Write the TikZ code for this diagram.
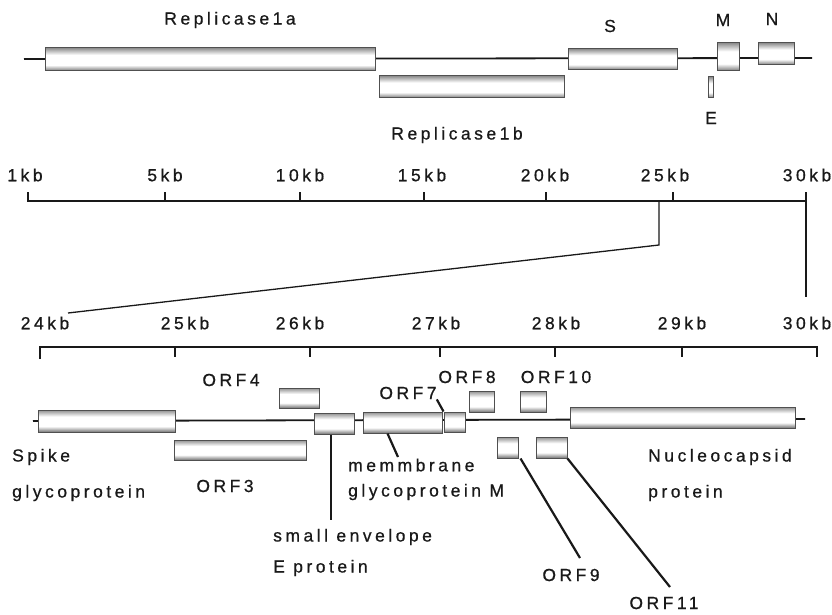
\documentclass[tikz,border=0pt]{standalone}
\usepackage{fontspec}
\setmainfont{Liberation Sans}[LetterSpace=20, FakeBold=0.7]
\usepackage{tikz}
\usetikzlibrary{positioning}
\definecolor{gnline}{RGB}{25,25,25}
\definecolor{gnedge}{RGB}{80,80,80}
\definecolor{gnshade}{RGB}{115,115,115}

% tube look for the gene boxes
\pgfdeclareverticalshading{genebar}{100bp}{color(0bp)=(gnshade); color(25bp)=(gnshade);
  color(38bp)=(white); color(60bp)=(white); color(75bp)=(gnshade!80); color(100bp)=(gnshade!80)}

\tikzset{
  gene/.style={draw=gnedge, line width=1pt, inner sep=0pt, shading=genebar},
  lbl/.style={font=\fontsize{17.5}{19}\selectfont, inner sep=0pt, text=gnline},
  lead/.style={gnline, line width=2.2pt},
  backbone/.style={gnline, line width=1.8pt},
  ruler/.style={gnline, line width=2.8pt},
  zoomline/.style={gnline, line width=1.3pt}
}

\begin{document}
\begin{tikzpicture}[x=1pt, y=-1pt]
\useasboundingbox (0,0) rectangle (832,615);

% ---- whole genome ----
\coordinate (top0) at (24,59);
\coordinate (top1) at (812,58);
\draw[backbone] (top0) -- (top1);

\node[gene, minimum width=330, minimum height=23] (rep1a) at (210,59.5) {};
\node[gene, minimum width=185, minimum height=22] (rep1b) at (471.5,87) {};
\node[gene, minimum width=109, minimum height=21] (sgene) at (622.5,59.5) {};
\node[gene, minimum width=22,  minimum height=28] (mgene) at (728,57) {};
\node[gene, minimum width=36,  minimum height=22] (ngene) at (776,54) {};
\node[gene, minimum width=5,   minimum height=21] (egene) at (710.5,87.5) {};

\node[lbl] (rep1albl) at (230,20)  {Replicase1a};
\node[lbl] (rep1blbl) at (457,135) {Replicase1b};
\node[lbl] (slbl)     at (610,26)  {S};
\node[lbl] (mlbl)     at (723,20)  {M};
\node[lbl] (nlbl)     at (772,19)  {N};
\node[lbl] (elbl)     at (711,118) {E};

% ---- whole genome scale ----
\node[lbl] (kb1)  at (25,175)  {1kb};
\node[lbl] (kb5)  at (165,175) {5kb};
\node[lbl] (kb10) at (300,175) {10kb};
\node[lbl] (kb15) at (422,175) {15kb};
\node[lbl] (kb20) at (545,175) {20kb};
\node[lbl] (kb25) at (665,175) {25kb};
\node[lbl] (kb30) at (807,175) {30kb};

\draw[ruler] (28,192) -- (28,201) -- (806,201) -- (806,192);
\draw[ruler] (165,192) -- (165,201);
\draw[ruler] (300,192) -- (300,201);
\draw[ruler] (424,192) -- (424,201);
\draw[ruler] (546,192) -- (546,201);
\draw[ruler] (673,192) -- (673,201);

% zoom lines
\coordinate (zoomA) at (659,201);
\coordinate (zoomB) at (659,245);
\coordinate (zoomC) at (68,313);
\coordinate (zoomD) at (806,201);
\coordinate (zoomE) at (806,297);
\draw[zoomline] (zoomA) -- (zoomB) -- (zoomC);
\draw[zoomline] (zoomD) -- (zoomE);

% ---- 24-30kb scale ----
\node[lbl] (sub24) at (45,323)  {24kb};
\node[lbl] (sub25) at (185,323) {25kb};
\node[lbl] (sub26) at (300,323) {26kb};
\node[lbl] (sub27) at (436,323) {27kb};
\node[lbl] (sub28) at (556,323) {28kb};
\node[lbl] (sub29) at (682,323) {29kb};
\node[lbl] (sub30) at (807,323) {30kb};

\draw[ruler] (40,359) -- (40,347) -- (817,347) -- (817,357);
\draw[ruler] (175,347) -- (175,357);
\draw[ruler] (310,347) -- (310,357);
\draw[ruler] (440,347) -- (440,357);
\draw[ruler] (555,347) -- (555,357);
\draw[ruler] (682,347) -- (682,357);

% ---- 24-30kb genes ----
\coordinate (sub0) at (33,421);
\coordinate (sub1) at (805,419);
\draw[backbone] (sub0) -- (sub1);

\node[gene, minimum width=137, minimum height=22] (spike) at (106.5,421) {};
\node[gene, minimum width=132, minimum height=20] (orf3)  at (240,450) {};
\node[gene, minimum width=40,  minimum height=20] (orf4)  at (299,398) {};
\node[gene, minimum width=40,  minimum height=21] (ebox)  at (334,423.5) {};
\node[gene, minimum width=79,  minimum height=21] (mbox)  at (402.5,422.5) {};
\node[gene, minimum width=21,  minimum height=20] (orf7)  at (454.5,422) {};
\node[gene, minimum width=25,  minimum height=21] (orf8)  at (481.5,401.5) {};
\node[gene, minimum width=26,  minimum height=21] (orf10) at (533,401.5) {};
\node[gene, minimum width=21,  minimum height=21] (orf9)  at (507.5,447.5) {};
\node[gene, minimum width=31,  minimum height=21] (orf11) at (551.5,447.5) {};
\node[gene, minimum width=225, minimum height=21] (ncap)  at (682.5,417.5) {};

% labels
\node[lbl] (orf4lbl)  at (231,380) {ORF4};
\node[lbl] (orf7lbl)  at (408,393) {ORF7};
\node[lbl] (orf8lbl)  at (467,377) {ORF8};
\node[lbl] (orf10lbl) at (556,377) {ORF10};
\node[lbl] (orf3lbl)  at (225,486) {ORF3};
\node[lbl] (orf9lbl)  at (571,575) {ORF9};
\node[lbl] (orf11lbl) at (664,603) {ORF11};

\node[lbl, anchor=west] (spikelbl) at (12,457) {Spike};
\node[lbl, anchor=west] (spikelblb) at (12,493) {glycoprotein};
\node[lbl, anchor=west] (mlbla) at (348,465) {memmbrane};
\node[lbl, anchor=west] (mlblb) at (348,492) {glycoprotein M};
\node[lbl, anchor=west] (elbla) at (273,537) {small envelope};
\node[lbl, anchor=west] (elblb) at (273,568) {E protein};
\node[lbl, anchor=west] (nlbla) at (648,457) {Nucleocapsid};
\node[lbl, anchor=west] (nlblb) at (648,493) {protein};

% leaders
\coordinate (eend)   at (331,520);
\coordinate (mend)   at (398,457);
\coordinate (o9end)  at (580,558);
\coordinate (o11end) at (670,587);
\draw[lead] (ebox.south -| eend) -- (eend);
\draw[lead] ([xshift=25pt]mbox.south west) -- (mend);
\draw[lead] (orf7lbl.south east) -- (orf7.north west);
\draw[lead] ([xshift=2pt]orf9.south east) -- (o9end);
\draw[lead] (orf11.south east) -- (o11end);
\end{tikzpicture}
\end{document}
